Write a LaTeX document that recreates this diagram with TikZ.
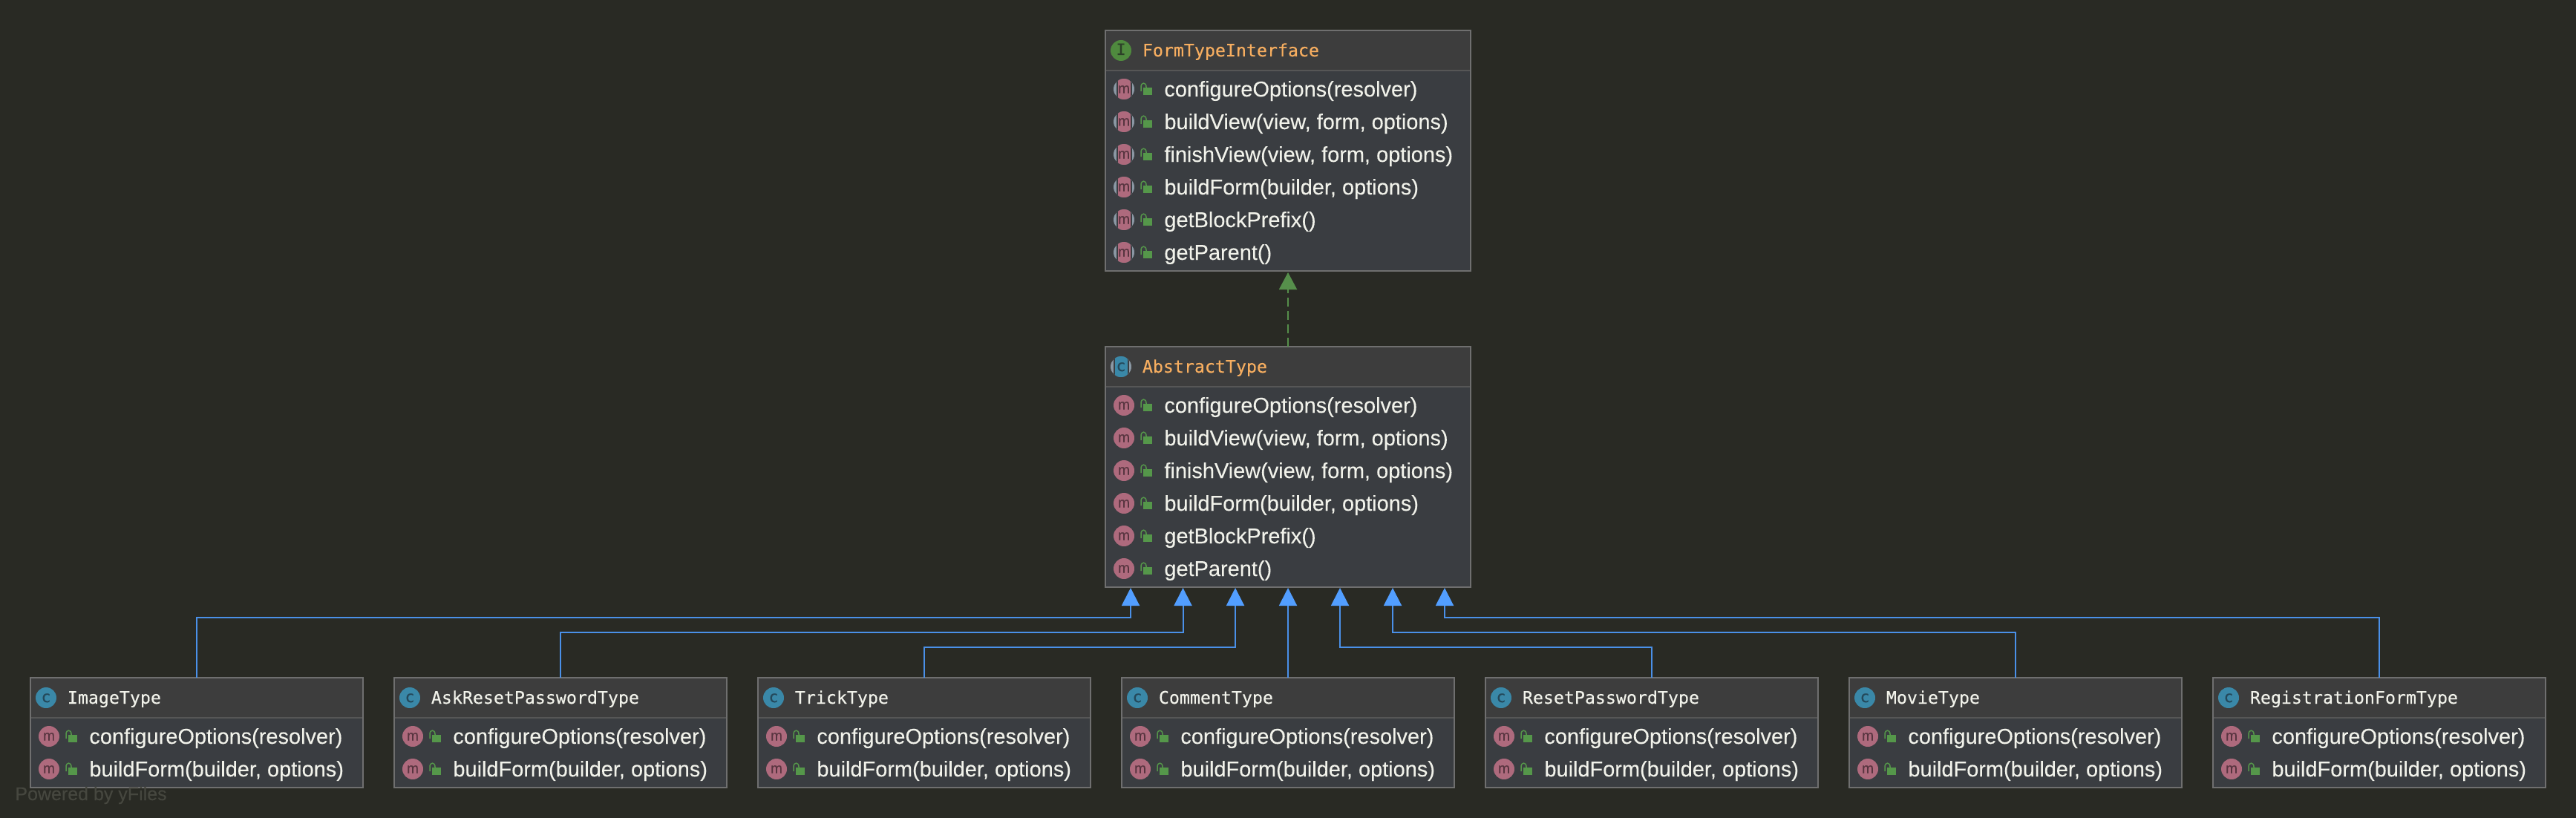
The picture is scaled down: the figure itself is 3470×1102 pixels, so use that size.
\documentclass[tikz,border=0pt]{standalone}
\usepackage{fontspec}
\setmainfont[FakeBold=0.12]{Liberation Sans}
\newfontfamily\umlmono[FakeBold=0.3]{DejaVu Sans Mono}
\usetikzlibrary{arrows.meta}
\definecolor{bgc}{HTML}{292A24}
\definecolor{headc}{HTML}{3D3D3D}
\definecolor{bodyc}{HTML}{3A3D41}
\definecolor{edgec}{HTML}{6F6F6F}
\definecolor{divc}{HTML}{565656}
\definecolor{orangec}{HTML}{F7AE60}
\definecolor{textc}{HTML}{F1F2EA}
\definecolor{pinkc}{HTML}{AE6A7D}
\definecolor{pinkd}{HTML}{57343F}
\definecolor{bluec}{HTML}{3A88A8}
\definecolor{blued}{HTML}{24485A}
\definecolor{greenc}{HTML}{4F8A3E}
\definecolor{greend}{HTML}{2C3F28}
\definecolor{lockc}{HTML}{55974A}
\definecolor{grayi}{HTML}{8B98A4}
\definecolor{inhc}{HTML}{4A90E8}
\definecolor{tipc}{HTML}{529EFF}
\definecolor{realc}{HTML}{568F4B}
\definecolor{poweredc}{HTML}{46473F}
\tikzset{
  x=0.5pt,y=-0.5pt,
  classbox/.style={draw=edgec,fill=bodyc,line width=1pt,anchor=north west,inner sep=0pt,outer sep=0pt},
  titletext/.style={anchor=base west,inner sep=0pt,font=\umlmono\fontsize{11.63}{13}\selectfont},
  methodtext/.style={anchor=base west,inner sep=0pt,text=textc,font=\fontsize{14.47}{16}\selectfont},
  iconletter/.style={inner sep=0pt,anchor=base},
  inh/.style={draw=inhc,line width=1pt,-{Triangle[length=12pt,width=12pt,fill=tipc,color=tipc]}},
  realize/.style={draw=realc,line width=1pt,dash pattern=on 6pt off 3pt,-{Triangle[length=11.5pt,width=12pt,fill=realc,color=realc]}},
}
% #1 cx, #2 cy, #3 abstract flag, #4 colour
\newcommand{\umlicon}[4]{%
  \ifnum#3=1
    \fill[grayi] (#1,#2) circle[radius=7pt];
    \begin{scope}
      \clip (#1,#2) circle[radius=7pt];
      \fill[bodyc] (#1-10.5,#2-15) rectangle (#1+10.5,#2+15);
      \fill[#4] (#1-8.5,#2-15) rectangle (#1+8.5,#2+15);
    \end{scope}
  \else
    \fill[#4] (#1,#2) circle[radius=7pt];
  \fi
}
% #1 name, #2 left, #3 top, #4 width, #5 height, #6 abstract flag, #7 kind letter, #8 title colour, #9 title
\newcommand{\umlclass}[9]{%
  \ifx c#7\colorlet{kindfill}{bluec}\colorlet{kindtext}{blued}\else\colorlet{kindfill}{greenc}\colorlet{kindtext}{greend}\fi
  \node[classbox,minimum width=#4*0.5pt,minimum height=#5*0.5pt] (#1) at (#2,#3) {};
  \begin{scope}[shift={(#2,#3)}]
    \fill[headc] (1,1) rectangle (#4-1,54);
    \draw[divc,line width=1pt] (1,54) -- (#4-1,54);
    \umlicon{21}{27}{#6}{kindfill}
    \node[iconletter,text=kindtext,font=\umlmono\fontsize{10.5}{12}\selectfont] (#1-k) at (21,33) {#7};
    \node[titletext,text=#8] (#1-t) at (49.5,35) {#9};
  \end{scope}
}
% #1 name, #2 left, #3 top, #4 abstract flag, #5 list of methods
\newcommand{\umlmethods}[5]{%
  \begin{scope}[shift={(#2,#3)}]
    \foreach \mname [count=\mi from 0] in {#5} {
      \pgfmathsetmacro{\my}{79+44*\mi}
      \umlicon{25}{\my}{#4}{pinkc}
      \node[iconletter,text=pinkd,font=\fontsize{9.6}{11}\selectfont] (#1-i\mi) at (25,\my+5.5) {m};
      \fill[lockc] (51,\my-2) rectangle (63,\my+8);
      \draw[lockc,line width=0.75pt] (48,\my+3) -- (48,\my-3)
        .. controls (48,\my-9.5) and (55,\my-9.5) .. (55,\my-3) -- (55,\my-1);
      \node[methodtext] (#1-m\mi) at (79,\my+10) {\mname};
    }
  \end{scope}
}
\begin{document}
\begin{tikzpicture}
\fill[bgc] (0,0) rectangle (3470,1102);
\useasboundingbox (0,0) rectangle (3470,1102);

\umlclass{iface}{1489}{41}{492}{324}{0}{I}{orangec}{FormTypeInterface}
\umlmethods{iface}{1489}{41}{1}{configureOptions(resolver),{buildView(view, form, options)},{finishView(view, form, options)},{buildForm(builder, options)},getBlockPrefix(),getParent()}

\umlclass{abstract}{1489}{467}{492}{324}{1}{c}{orangec}{AbstractType}
\umlmethods{abstract}{1489}{467}{0}{configureOptions(resolver),{buildView(view, form, options)},{finishView(view, form, options)},{buildForm(builder, options)},getBlockPrefix(),getParent()}

\foreach \nm/\lf/\ttl in {image/41/ImageType,ask/531/AskResetPasswordType,trick/1021/TrickType,comment/1511/CommentType,reset/2001/ResetPasswordType,movie/2491/MovieType,registration/2981/RegistrationFormType} {
  \umlclass{\nm}{\lf}{913}{448}{148}{0}{c}{textc}{\ttl}
  \umlmethods{\nm}{\lf}{913}{0}{configureOptions(resolver),{buildForm(builder, options)}}
}

\coordinate (t1) at (1523,792);
\coordinate (t2) at (1593.5,792);
\coordinate (t3) at (1664,792);
\coordinate (t4) at (1735,792);
\coordinate (t5) at (1805,792);
\coordinate (t6) at (1876,792);
\coordinate (t7) at (1946,792);
\coordinate (lvla) at (0,832);
\coordinate (lvlb) at (0,852);
\coordinate (lvlc) at (0,872);

\draw[inh] (image.north) |- (t1 |- lvla) -- (t1);
\draw[inh] (ask.north) |- (t2 |- lvlb) -- (t2);
\draw[inh] (trick.north) |- (t3 |- lvlc) -- (t3);
\draw[inh] (comment.north) -- (t4);
\draw[inh] (reset.north) |- (t5 |- lvlc) -- (t5);
\draw[inh] (movie.north) |- (t6 |- lvlb) -- (t6);
\draw[inh] (registration.north) |- (t7 |- lvla) -- (t7);

\draw[realize] (abstract.north) -- ([yshift=-1pt]iface.south);

\node[anchor=base west,inner sep=0pt,text=poweredc,font=\fontsize{12.5}{14}\selectfont] (powered) at (20,1078) {Powered by yFiles};
\end{tikzpicture}
\end{document}
